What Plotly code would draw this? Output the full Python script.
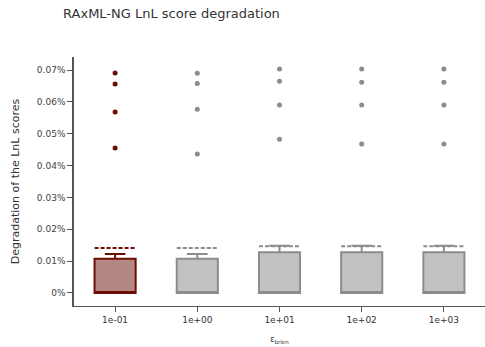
import plotly.graph_objects as go

categories = ["1e-01", "1e+00", "1e+01", "1e+02", "1e+03"]
q1 = [0.0, 0.0, 0.0, 0.0, 0.0]
median = [0.0, 0.0, 0.0, 0.0, 0.0]
q3 = [0.000107, 0.000107, 0.000128, 0.000128, 0.000128]
lowerfence = [0.0, 0.0, 0.0, 0.0, 0.0]
upperfence = [0.000122, 0.000122, 0.000148, 0.000148, 0.000148]
means = [0.000141, 0.000141, 0.000147, 0.000147, 0.000147]
outliers = [
    [0.000691, 0.000656, 0.000568, 0.000455],
    [0.000690, 0.000658, 0.000577, 0.000436],
    [0.000703, 0.000665, 0.000590, 0.000483],
    [0.000703, 0.000662, 0.000590, 0.000468],
    [0.000703, 0.000662, 0.000590, 0.000468],
]

line_colors = ["#6b0f05", "#8c8c8c", "#8c8c8c", "#8c8c8c", "#8c8c8c"]
fill_colors = ["rgba(107,15,5,0.5)", "#c2c2c2", "#c2c2c2", "#c2c2c2", "#c2c2c2"]

fig = go.Figure()
for i, c in enumerate(categories):
    fig.add_trace(go.Box(
        x=[c], q1=[q1[i]], median=[median[i]], q3=[q3[i]],
        lowerfence=[lowerfence[i]], upperfence=[upperfence[i]], mean=[means[i]],
        boxmean=True, width=0.5, whiskerwidth=0.5,
        line=dict(color=line_colors[i], width=2),
        fillcolor=fill_colors[i], showlegend=False,
    ))
    fig.add_trace(go.Scatter(
        x=[c] * len(outliers[i]), y=outliers[i], mode="markers",
        marker=dict(color=line_colors[i], size=5), showlegend=False,
    ))

fig.update_layout(
    width=485, height=347,
    margin=dict(l=74, r=0, t=57, b=41),
    paper_bgcolor="white", plot_bgcolor="white",
    font=dict(family="DejaVu Sans", size=10, color="#444"),
    title=dict(text="RAxML-NG LnL score degradation", x=0.13, xanchor="left",
               y=0.96, yanchor="middle", font=dict(size=13, color="#333")),
    xaxis=dict(type="category", categoryorder="array", categoryarray=categories,
               range=[-0.5, 4.5], showline=True, linecolor="#555", linewidth=1,
               ticks="outside", ticklen=5, tickcolor="#555", showgrid=False,
               tickfont=dict(size=9, color="#333"),
               title=dict(text="ε<sub>brlen</sub>", font=dict(size=8, color="#333"), standoff=12)),
    yaxis=dict(range=[-0.000041, 0.000741], tickformat=".2~%",
               tickvals=[0, 0.0001, 0.0002, 0.0003, 0.0004, 0.0005, 0.0006, 0.0007],
               showline=True, linecolor="#555", linewidth=1.5,
               ticks="outside", ticklen=5, tickcolor="#555", showgrid=False, zeroline=False,
               tickfont=dict(size=9, color="#444"),
               title=dict(text="Degradation of the LnL scores", font=dict(size=11, color="#333"), standoff=15)),
)

fig.write_html("out.html")
